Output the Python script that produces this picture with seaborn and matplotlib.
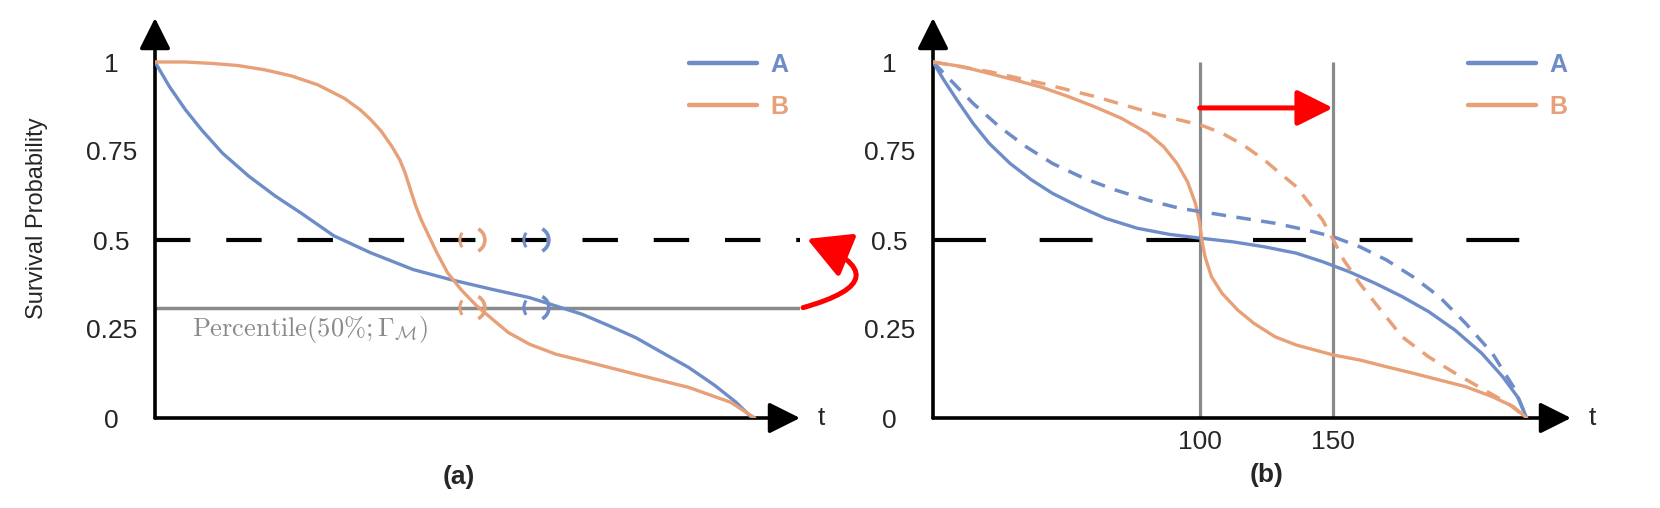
import matplotlib as mpl
mpl.use("Agg")
import matplotlib.pyplot as plt
from matplotlib.patches import Arc
from matplotlib.transforms import ScaledTranslation
import seaborn as sns

# ---- data ----
# panel (a)
a_t_A = [0, 5.4, 11.4, 17.4, 25.3, 35.2, 45.2, 55.1, 67.0, 80.9, 96.8, 110.7, 126.6, 140.5, 146.4,
         160.3, 170.3, 180.2, 190.1, 200.1, 210.0, 217.9, 223.9]
a_S_A = [1.0, 0.931, 0.866, 0.810, 0.744, 0.679, 0.623, 0.574, 0.512, 0.464, 0.417, 0.389, 0.361, 0.338,
         0.324, 0.291, 0.259, 0.226, 0.184, 0.142, 0.091, 0.044, 0.0]
a_t_B = [0, 11.4, 21.3, 31.2, 41.2, 51.1, 61.0, 71.0, 76.9, 80.9, 84.9, 88.8, 91.8, 93.8, 95.8, 97.8,
         99.8, 102.7, 105.7, 109.7, 114.7, 120.6, 126.6, 132.5, 140.5, 150.4, 160.3, 180.2, 200.1,
         215.9, 224.9]
a_S_B = [1.0, 1.0, 0.996, 0.990, 0.978, 0.961, 0.936, 0.898, 0.866, 0.838, 0.805, 0.763, 0.725, 0.688,
         0.641, 0.595, 0.557, 0.511, 0.464, 0.408, 0.361, 0.315, 0.277, 0.240, 0.207, 0.179, 0.161,
         0.123, 0.086, 0.044, 0.0]
percentile_level = 0.31
median_level = 0.5
marks_t = [119, 143]          # where B and A reach the percentile level

# panel (b)
b_t_A = [0, 4.1, 9.0, 15.0, 21.0, 28.9, 36.9, 44.8, 54.7, 64.6, 76.6, 88.5, 100.4, 112.3, 124.2, 136.2,
         146.1, 156.0, 165.9, 175.9, 185.8, 195.7, 205.7, 213.6, 219.6, 222.6]
b_S_A = [1.0, 0.949, 0.893, 0.828, 0.772, 0.715, 0.669, 0.631, 0.594, 0.561, 0.533, 0.516, 0.505, 0.495,
         0.481, 0.463, 0.439, 0.411, 0.378, 0.341, 0.299, 0.247, 0.182, 0.116, 0.055, 0.0]
b_t_A2 = [0, 7.1, 15.0, 24.9, 34.9, 44.8, 56.7, 68.6, 80.5, 92.5, 104.4, 116.3, 128.3, 140.1, 150.1,
          160.0, 170.0, 179.9, 189.8, 199.7, 209.7, 217.6, 222.6]
b_S_A2 = [1.0, 0.945, 0.884, 0.818, 0.762, 0.715, 0.673, 0.640, 0.612, 0.589, 0.575, 0.561, 0.547, 0.528,
          0.509, 0.481, 0.444, 0.397, 0.341, 0.266, 0.182, 0.088, 0.0]
b_t_B = [0, 11.0, 21.0, 30.9, 40.8, 50.7, 60.7, 70.6, 80.5, 86.5, 91.5, 95.4, 98.4, 100.0, 100.8, 102.0,
         104.4, 108.4, 114.3, 120.3, 128.3, 136.2, 150.1, 160.0, 170.0, 179.9, 189.8, 199.7, 209.7,
         217.6, 222.6]
b_S_B = [1.0, 0.987, 0.968, 0.949, 0.929, 0.903, 0.874, 0.842, 0.800, 0.762, 0.715, 0.664, 0.603, 0.547,
         0.500, 0.453, 0.397, 0.350, 0.303, 0.266, 0.228, 0.205, 0.177, 0.163, 0.144, 0.126, 0.107,
         0.088, 0.060, 0.032, 0.0]
b_t_B2 = [0, 21.0, 40.8, 60.7, 80.5, 92.5, 100.4, 108.4, 116.3, 124.2, 130.2, 136.2, 141.1, 146.1, 150.1,
          154.0, 160.0, 167.9, 175.9, 185.8, 195.7, 205.7, 215.6, 222.6]
b_S_B2 = [1.0, 0.973, 0.940, 0.903, 0.860, 0.837, 0.823, 0.800, 0.767, 0.725, 0.687, 0.650, 0.603, 0.556,
          0.500, 0.444, 0.378, 0.303, 0.228, 0.172, 0.126, 0.083, 0.041, 0.0]
vlines_t = [100, 150]
shift_y = 0.871

yticks = [0, 0.25, 0.5, 0.75, 1]
yticklabels = ["0", "0.25", "0.5", "0.75", "1"]

BLUE = "#6E8DC8"
ORANGE = "#E8A078"
GRAY = "#8A8A8A"

sns.set_style("white")
plt.rcParams['font.family'] = ['Liberation Sans', 'DejaVu Sans']
plt.rcParams['mathtext.fontset'] = 'cm'

fig = plt.figure(figsize=(16.6, 5.08), dpi=100)
W, H = 1660.0, 508.0
axL = fig.add_axes([155 / W, 90 / H, 645 / W, 400 / H])
axR = fig.add_axes([933 / W, 90 / H, 638 / W, 400 / H])
axL.set_xlim(0, 645 / 2.667)
axR.set_xlim(0, 638 / 2.667)
for ax in (axL, axR):
    ax.set_ylim(0, 400 / 356.0)
    for s in ax.spines.values():
        s.set_visible(False)
    ax.set_facecolor("none")
    ax.set_yticks(yticks)
    ax.set_yticklabels(yticklabels, fontsize=19, ha="center")
    ax.tick_params(axis="y", length=0, pad=31.5)
    ax.tick_params(axis="x", length=0, pad=8.5, labelsize=19)
    # axis arrows
    arw = dict(arrowstyle="-|>,head_length=1.0,head_width=0.5", color="black", lw=2.6,
               mutation_scale=19, shrinkA=0, shrinkB=0)
    ax.annotate("", xy=(1, 0), xytext=(0, 0), xycoords="axes fraction", arrowprops=arw,
                annotation_clip=False)
    ax.annotate("", xy=(0, 1), xytext=(0, 0), xycoords="axes fraction", arrowprops=arw,
                annotation_clip=False)
    ax.text(1.027, 0, "t", transform=ax.transAxes, fontsize=19, ha="left", va="center")

axL.set_xticks([])
axR.set_xticks(vlines_t)
axR.set_xticklabels([str(v) for v in vlines_t])

# ---- panel (a) ----
axL.plot([0, 243], [median_level, median_level], color="black", lw=3,
         linestyle=(0, (8.5, 8.6)), zorder=2)
axL.plot([0, 242], [percentile_level, percentile_level], color=GRAY, lw=2.5, zorder=2)
sns.lineplot(x=a_t_A, y=a_S_A, color=BLUE, lw=2.4, ax=axL, label="A", zorder=3)
sns.lineplot(x=a_t_B, y=a_S_B, color=ORANGE, lw=2.4, ax=axL, label="B", zorder=3)

# broken-circle markers, sized in inches and placed at the data points
d = 0.25
for t, c in zip(marks_t, [ORANGE, BLUE]):
    for lvl in (percentile_level, median_level):
        tr = fig.dpi_scale_trans + ScaledTranslation(t, lvl, axL.transData)
        axL.add_patch(Arc((0, 0), d, d, theta1=145, theta2=215, color=c, lw=2.2,
                          transform=tr, zorder=4))
        axL.add_patch(Arc((0, 0), d, d, theta1=-62, theta2=62, color=c, lw=2.6,
                          transform=tr, zorder=4))

axL.text(14, 0.249, r"$\mathrm{Percentile}(50\%;\Gamma_{\mathcal{M}})$", color=GRAY,
         fontsize=19, va="center", ha="left")

axL.annotate("", xy=(244.5, 0.503), xytext=(243, percentile_level),
             arrowprops=dict(arrowstyle="-|>,head_length=1.2,head_width=0.65", color="red",
                             lw=3.6, mutation_scale=22, shrinkA=0, shrinkB=0,
                             connectionstyle="arc3,rad=1.45"),
             annotation_clip=False)

# ---- panel (b) ----
axR.vlines(vlines_t, 0, 1, color=GRAY, lw=2.3, zorder=2)
axR.plot([0, 221], [median_level, median_level], color="black", lw=3,
         linestyle=(0, (12.7, 12.9)), zorder=2)
sns.lineplot(x=b_t_A, y=b_S_A, color=BLUE, lw=2.4, ax=axR, label="A", zorder=3)
sns.lineplot(x=b_t_B, y=b_S_B, color=ORANGE, lw=2.4, ax=axR, label="B", zorder=3)
sns.lineplot(x=b_t_A2, y=b_S_A2, color=BLUE, lw=2.5, ax=axR, linestyle=(0, (4.2, 3.0)), zorder=3)
sns.lineplot(x=b_t_B2, y=b_S_B2, color=ORANGE, lw=2.5, ax=axR, linestyle=(0, (4.2, 3.0)), zorder=3)

axR.annotate("", xy=(vlines_t[1], shift_y), xytext=(vlines_t[0], shift_y),
             arrowprops=dict(arrowstyle="-|>,head_length=1.1,head_width=0.55", color="red",
                             lw=3.6, mutation_scale=20, shrinkA=0, shrinkB=0))

# legends
for ax, xa in ((axL, (689 - 155) / 645.0), (axR, (1468 - 933) / 638.0)):
    h, l = ax.get_legend_handles_labels()
    leg = ax.legend(h[:2], l[:2], loc="upper left", bbox_to_anchor=(xa, 0.912), frameon=False,
                    handlelength=2.7, handletextpad=0.55, labelspacing=0.72,
                    borderpad=0, borderaxespad=0, labelcolor="linecolor",
                    prop={"weight": "bold", "size": 18})
    for line in leg.get_lines():
        line.set_linewidth(3.2)

axL.set_xlabel("")
axR.set_xlabel("")
axR.set_ylabel("")
axL.set_ylabel("Survival Probability", fontsize=17, labelpad=27)
fig.text(459 / W, 1 - 477 / H, "(a)", fontsize=19, fontweight="bold", ha="center", va="center")
fig.text(1267 / W, 1 - 475 / H, "(b)", fontsize=19, fontweight="bold", ha="center", va="center")

fig.savefig("out.png", dpi=100)
